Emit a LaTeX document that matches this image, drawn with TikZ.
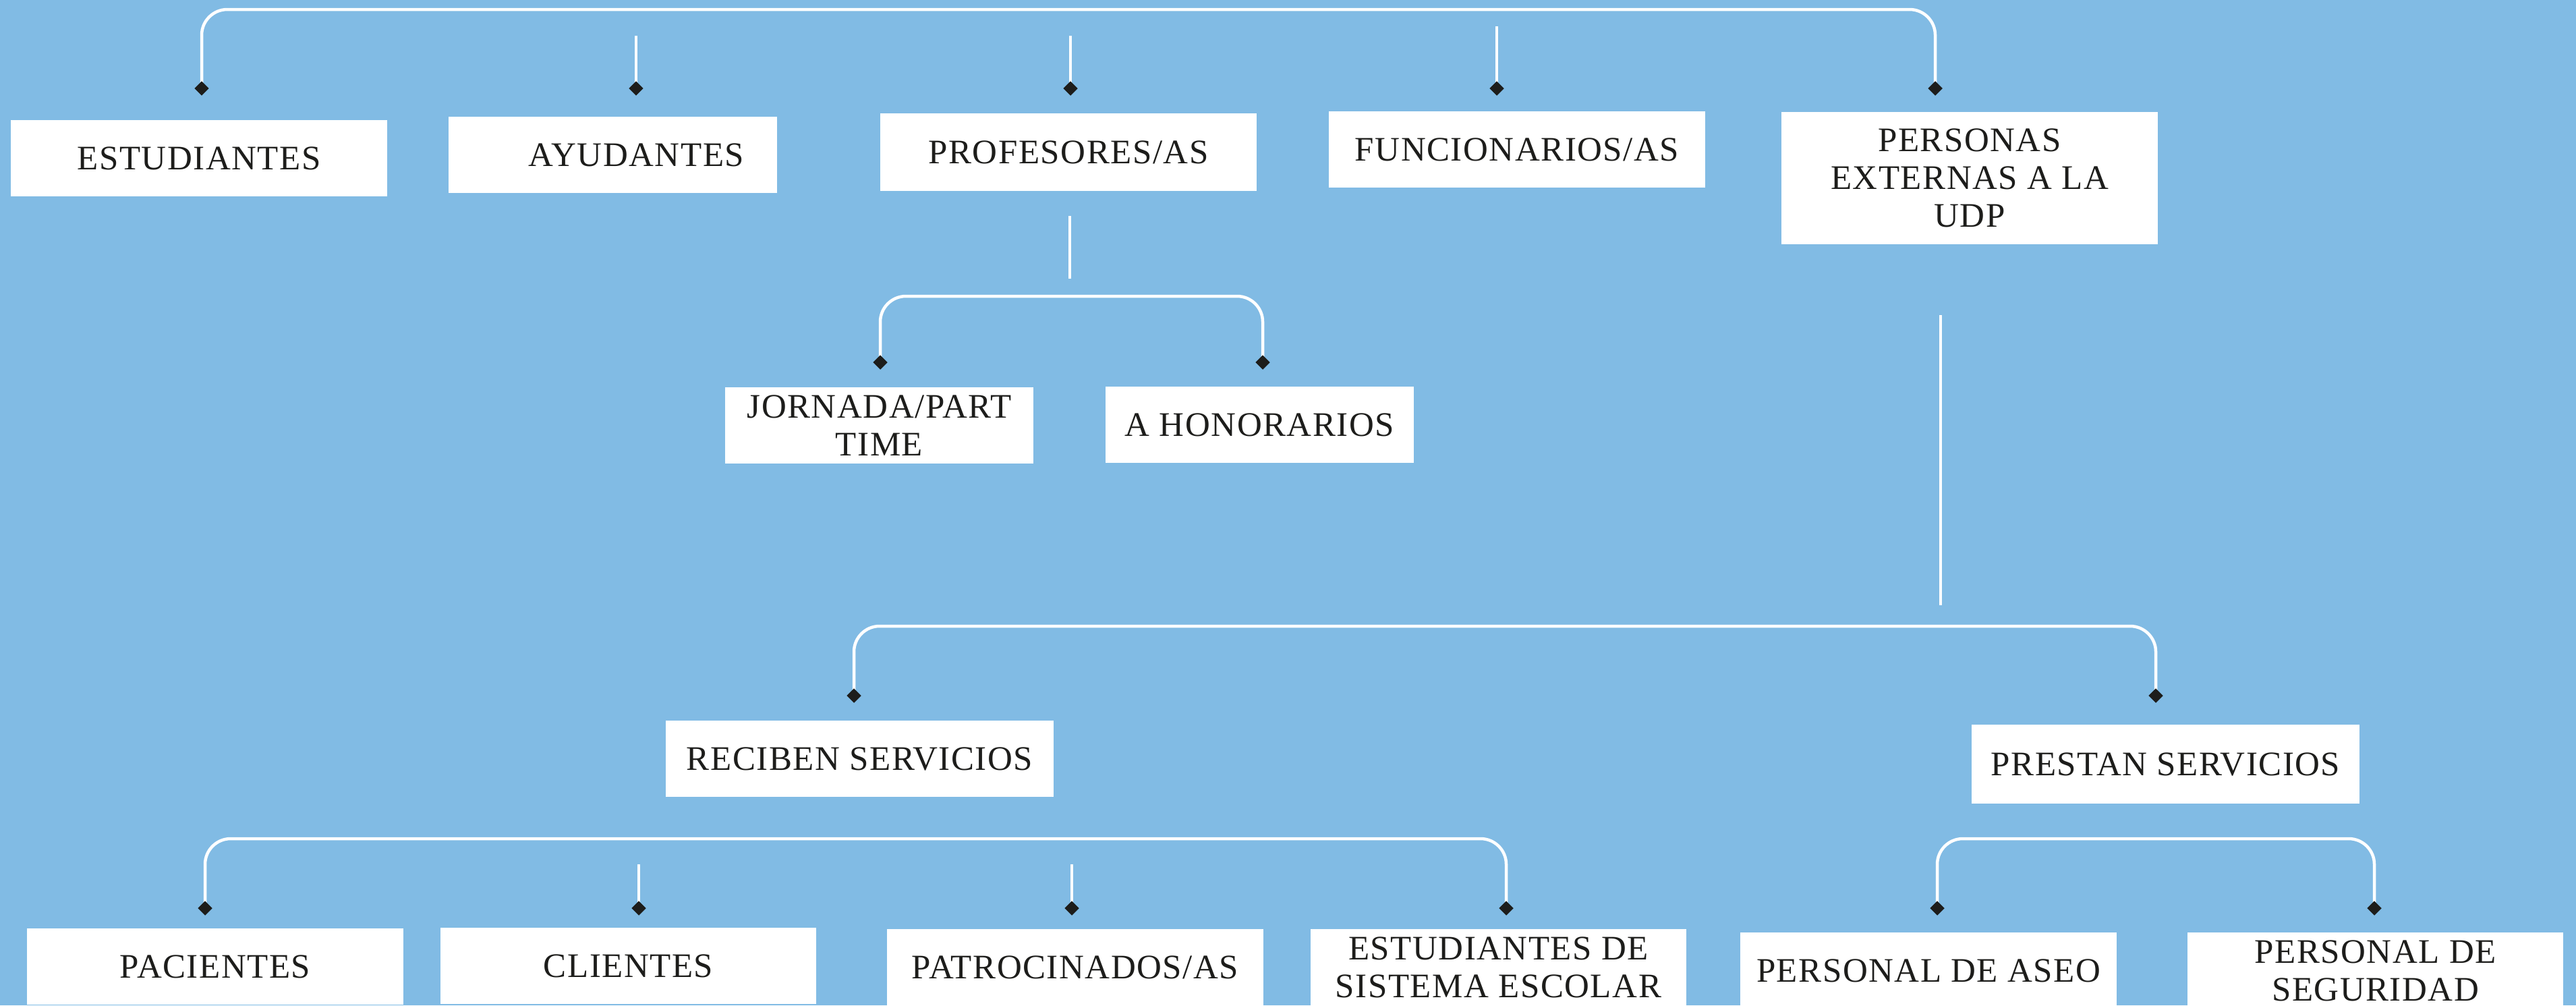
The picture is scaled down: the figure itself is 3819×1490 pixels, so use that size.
\documentclass[tikz,border=0pt]{standalone}
\usepackage{fontspec}
\setmainfont[LetterSpace=3]{Liberation Serif}
\usetikzlibrary{shapes.geometric}
\definecolor{bgblue}{RGB}{129,187,228}
\definecolor{dk}{RGB}{29,29,27}
\tikzset{
  box/.style={fill=white, draw=none, inner sep=0pt, align=center, text=dk,
    font=\fontsize{14.5pt}{16pt}\selectfont},
  dia/.style={shape=diamond, fill=dk, draw=none, inner sep=0pt,
    minimum width=0.22cm, minimum height=0.22cm},
  wire/.style={draw=white, line width=0.045cm, rounded corners=0.38cm},
}
\begin{document}
\begin{tikzpicture}[x=0.01cm, y=-0.01cm]
\useasboundingbox (0,0) rectangle (3819,1490);
\clip (0,0) rectangle (3819,1490);
\fill[bgblue] (0,0) rectangle (3819,1490);

% ---- boxes, level 1
\node[box, minimum width=5.58cm, minimum height=1.13cm] (est)  at (295,234.5)  {ESTUDIANTES};
\node[box, minimum width=4.87cm, minimum height=1.13cm] (ayu)  at (908.5,229.5) {\hspace*{0.7cm}AYUDANTES};
\node[box, minimum width=5.58cm, minimum height=1.15cm] (prof) at (1584,225.5) {PROFESORES/AS};
\node[box, minimum width=5.58cm, minimum height=1.13cm] (func) at (2249,221.5) {FUNCIONARIOS/AS};
\node[box, minimum width=5.58cm, minimum height=1.96cm] (pers) at (2920,264)   {PERSONAS\\EXTERNAS A LA\\UDP};
% ---- level 2
\node[box, minimum width=4.57cm, minimum height=1.13cm] (jorn) at (1303.5,630.5) {JORNADA/PART\\TIME};
\node[box, minimum width=4.57cm, minimum height=1.13cm] (hon)  at (1867.5,629.5) {A HONORARIOS};
\node[box, minimum width=5.75cm, minimum height=1.13cm] (rec)  at (1274.5,1124.5) {RECIBEN SERVICIOS};
\node[box, minimum width=5.75cm, minimum height=1.17cm] (pres) at (3210.5,1132.5) {PRESTAN SERVICIOS};
% ---- level 3
\node[box, minimum width=5.58cm, minimum height=1.13cm] (pac)  at (319,1432.5)  {PACIENTES};
\node[box, minimum width=5.57cm, minimum height=1.13cm] (cli)  at (931.5,1431.5) {CLIENTES};
\node[box, minimum width=5.58cm, minimum height=1.13cm] (pat)  at (1594,1433.5) {PATROCINADOS/AS};
\node[box, minimum width=5.57cm, minimum height=1.13cm] (esc)  at (2221.5,1433.5) {ESTUDIANTES DE\\SISTEMA ESCOLAR};
\node[box, minimum width=5.58cm, minimum height=1.13cm] (aseo) at (2859,1438.5) {PERSONAL DE ASEO};
\node[box, minimum width=5.57cm, minimum height=1.13cm] (seg)  at (3521.5,1438.5) {PERSONAL DE\\SEGURIDAD};

% ---- free coordinates
\coordinate (topmid) at (1586,14);
\coordinate (sAyu)  at (943,53);
\coordinate (sProf) at (1587,53);
\coordinate (sFunc) at (2219,39);
\coordinate (pdA) at (1586,320);
\coordinate (pdB) at (1586,413);
\coordinate (jb)  at (1588,439);
\coordinate (xdA) at (2877,467);
\coordinate (xdB) at (2877,897);
\coordinate (rb)  at (2230,928);
\coordinate (cb)  at (1268,1243);
\coordinate (ab)  at (3196,1243);
\coordinate (sCli) at (947,1281);
\coordinate (sPat) at (1589,1281);

% ---- connectors
\draw[wire] (299,131) coordinate (wEst) |- (topmid) -| (2869,131) coordinate (wPers);
\draw[wire] (sAyu) -- (943,131) coordinate (wAyu);
\draw[wire] (sProf) -- (1587,131) coordinate (wProf);
\draw[wire] (sFunc) -- (2219,131) coordinate (wFunc);
\draw[wire] (pdA) -- (pdB);
\draw[wire] (1305,537) coordinate (wJorn) |- (jb) -| (1872,537) coordinate (wHon);
\draw[wire] (xdA) -- (xdB);
\draw[wire] (1266,1031) coordinate (wRec) |- (rb) -| (3196,1031) coordinate (wPres);
\draw[wire] (304,1346) coordinate (wPac) |- (cb) -| (2233,1346) coordinate (wEsc);
\draw[wire] (sCli) -- (947,1346) coordinate (wCli);
\draw[wire] (sPat) -- (1589,1346) coordinate (wPat);
\draw[wire] (2872,1346) coordinate (wAseo) |- (ab) -| (3520,1346) coordinate (wSeg);

% ---- diamonds
\foreach \n in {wEst,wAyu,wProf,wFunc,wPers,wJorn,wHon,wRec,wPres,wPac,wCli,wPat,wEsc,wAseo,wSeg}
  \node[dia] (d\n) at (\n) {};
\end{tikzpicture}
\end{document}
